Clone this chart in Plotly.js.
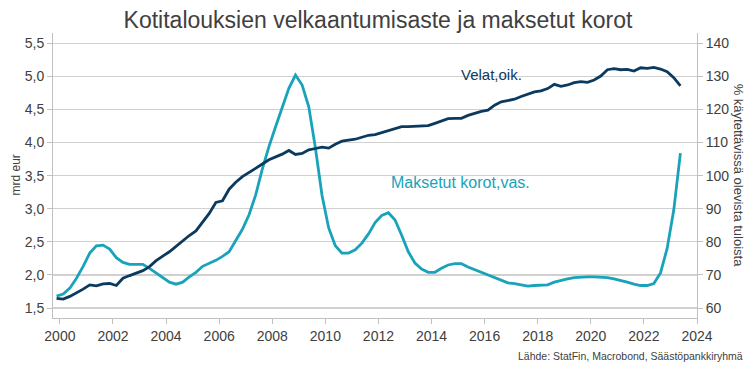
<!DOCTYPE html>
<html>
<head>
<meta charset="utf-8">
<script src="https://cdn.plot.ly/plotly-3.0.1.min.js"></script>
<style>
html,body{margin:0;padding:0;background:#fff;}
#chart{width:756px;height:371px;}
</style>
</head>
<body>
<div id="chart"></div>
<script>
// Quarterly observations (plotted at mid-quarter)
const quarters = [
 "1999Q4",
 "2000Q1","2000Q2","2000Q3","2000Q4","2001Q1","2001Q2","2001Q3","2001Q4",
 "2002Q1","2002Q2","2002Q3","2002Q4","2003Q1","2003Q2","2003Q3","2003Q4",
 "2004Q1","2004Q2","2004Q3","2004Q4","2005Q1","2005Q2","2005Q3","2005Q4",
 "2006Q1","2006Q2","2006Q3","2006Q4","2007Q1","2007Q2","2007Q3","2007Q4",
 "2008Q1","2008Q2","2008Q3","2008Q4","2009Q1","2009Q2","2009Q3","2009Q4",
 "2010Q1","2010Q2","2010Q3","2010Q4","2011Q1","2011Q2","2011Q3","2011Q4",
 "2012Q1","2012Q2","2012Q3","2012Q4","2013Q1","2013Q2","2013Q3","2013Q4",
 "2014Q1","2014Q2","2014Q3","2014Q4","2015Q1","2015Q2","2015Q3","2015Q4",
 "2016Q1","2016Q2","2016Q3","2016Q4","2017Q1","2017Q2","2017Q3","2017Q4",
 "2018Q1","2018Q2","2018Q3","2018Q4","2019Q1","2019Q2","2019Q3","2019Q4",
 "2020Q1","2020Q2","2020Q3","2020Q4","2021Q1","2021Q2","2021Q3","2021Q4",
 "2022Q1","2022Q2","2022Q3","2022Q4","2023Q1","2023Q2"
];

// Maksetut korot (mrd eur, left axis)
const interestPaid = [
 1.68,1.71,1.80,1.95,2.13,2.33,2.44,2.45,2.39,2.26,
 2.19,2.16,2.16,2.16,2.10,2.03,1.95,1.89,1.86,1.89,
 1.97,2.04,2.13,2.17,2.22,2.28,2.35,2.52,2.69,2.91,
 3.21,3.60,3.94,4.24,4.52,4.82,5.02,4.87,4.54,3.92,
 3.20,2.71,2.44,2.33,2.33,2.38,2.48,2.62,2.79,2.90,
 2.94,2.83,2.60,2.35,2.18,2.09,2.04,2.04,2.10,2.15,
 2.17,2.17,2.12,2.08,2.04,2.00,1.96,1.92,1.88,1.87,
 1.85,1.83,1.84,1.84,1.85,1.89,1.92,1.94,1.96,1.97,
 1.97,1.97,1.97,1.96,1.94,1.92,1.89,1.86,1.84,1.84,
 1.87,2.03,2.40,2.98,3.84
];

// Velat, % käytettävissä olevista tuloista (right axis)
const debtRatio = [
 62.9,62.7,63.5,64.5,65.7,67.0,66.7,67.3,67.4,66.8,
 69.0,69.8,70.5,71.3,72.5,74.3,75.7,77.0,78.6,80.3,
 81.9,83.3,85.9,88.6,91.9,92.4,95.9,98.0,99.7,100.9,
 102.1,103.5,104.8,105.6,106.5,107.6,106.4,106.7,107.8,108.2,
 108.6,108.3,109.5,110.4,110.7,111.0,111.6,112.2,112.4,113.0,
 113.8,114.3,114.8,114.8,114.9,115.1,115.1,115.8,116.4,117.2,
 117.3,117.3,118.2,118.9,119.4,119.8,121.3,122.3,122.6,123.1,
 123.9,124.5,125.3,125.6,126.3,127.6,127.0,127.4,128.1,128.4,
 128.2,128.9,130.1,132.0,132.3,132.0,132.1,131.6,132.6,132.4,
 132.7,132.2,131.4,129.6,127.1
];

const leftTickVals = [1.5,2.0,2.5,3.0,3.5,4.0,4.5,5.0,5.5];
const leftTickText = ["1,5","2,0","2,5","3,0","3,5","4,0","4,5","5,0","5,5"];
const rightTickVals = [60,70,80,90,100,110,120,130,140];
const xTickVals = [2000,2002,2004,2006,2008,2010,2012,2014,2016,2018,2020,2022,2024];
const xTickText = xTickVals.map(String);

const chartTitle = "Kotitalouksien velkaantumisaste ja maksetut korot";
const leftTitle = "mrd eur";
const rightTitle = "% käytettävissä olevista tuloista";
const labelDebt = "Velat,oik.";
const labelInterest = "Maksetut korot,vas.";
const sourceText = "Lähde: StatFin, Macrobond, Säästöpankkiryhmä";

// mid-quarter position in decimal years
const xs = quarters.map(q => {
  const y = parseInt(q.slice(0,4),10);
  const n = parseInt(q.slice(5),10);
  return y + (n - 0.5) / 4;
});

const NAVY = "#0b3a5e";
const TEAL = "#18a3ba";
const TXT = "#404040";
const FONT = "Liberation Sans, Arial, sans-serif";

const traces = [
  {x: xs, y: interestPaid, type: "scatter", mode: "lines", yaxis: "y",
   line: {color: TEAL, width: 2.8}, name: labelInterest, hoverinfo: "skip"},
  {x: xs, y: debtRatio, type: "scatter", mode: "lines", yaxis: "y2",
   line: {color: NAVY, width: 2.8}, name: labelDebt, hoverinfo: "skip"}
];

const axisLine = "#c0c0c0";
const layout = {
  width: 756, height: 371,
  margin: {l: 53, r: 59, t: 33, b: 53, pad: 0},
  paper_bgcolor: "#fff", plot_bgcolor: "#fff",
  showlegend: false,
  font: {family: FONT, color: TXT, size: 14},
  title: {text: chartTitle, x: 0.5, xanchor: "center", y: 0.945, yanchor: "middle",
          font: {family: FONT, size: 23, color: TXT}},
  xaxis: {
    range: [1999.74, 2024.0], tickvals: xTickVals, ticktext: xTickText,
    showgrid: false, zeroline: false,
    showline: true, linecolor: axisLine, linewidth: 1,
    ticks: "outside", ticklen: 5, tickcolor: axisLine,
    tickfont: {size: 14, color: TXT}
  },
  yaxis: {
    range: [1.349, 5.656], tickvals: leftTickVals, ticktext: leftTickText,
    showgrid: true, gridcolor: "#d0d0d0", gridwidth: 1.2, zeroline: false,
    showline: true, linecolor: axisLine, linewidth: 1,
    ticks: "outside", ticklen: 5, tickcolor: axisLine,
    tickfont: {size: 14, color: TXT}
  },
  yaxis2: {
    range: [56.98, 143.1], tickvals: rightTickVals, overlaying: "y", side: "right",
    showgrid: false, zeroline: false,
    showline: true, linecolor: axisLine, linewidth: 1,
    ticks: "outside", ticklen: 5, tickcolor: axisLine,
    tickfont: {size: 14, color: TXT}
  },
  annotations: [
    {text: leftTitle, xref: "paper", yref: "paper", x: -0.059, y: 0.5,
     xanchor: "center", yanchor: "middle", textangle: -90, showarrow: false,
     font: {size: 12, color: TXT}},
    {text: rightTitle, xref: "paper", yref: "paper", x: 1.065, y: 0.5,
     xanchor: "center", yanchor: "middle", textangle: 90, showarrow: false,
     font: {size: 13, color: TXT}},
    {text: labelDebt, xref: "paper", yref: "paper", x: 0.630, y: 0.853,
     xanchor: "left", yanchor: "middle", showarrow: false,
     font: {size: 15, color: NAVY}},
    {text: labelInterest, xref: "paper", yref: "paper", x: 0.522, y: 0.474,
     xanchor: "left", yanchor: "middle", showarrow: false,
     font: {size: 16, color: TEAL}},
    {text: sourceText, xref: "paper", yref: "paper", x: 1.074, y: -0.133,
     xanchor: "right", yanchor: "middle", showarrow: false,
     font: {size: 10.5, color: TXT}}
  ]
};

Plotly.newPlot("chart", traces, layout, {staticPlot: true, displayModeBar: false});
</script>
</body>
</html>
